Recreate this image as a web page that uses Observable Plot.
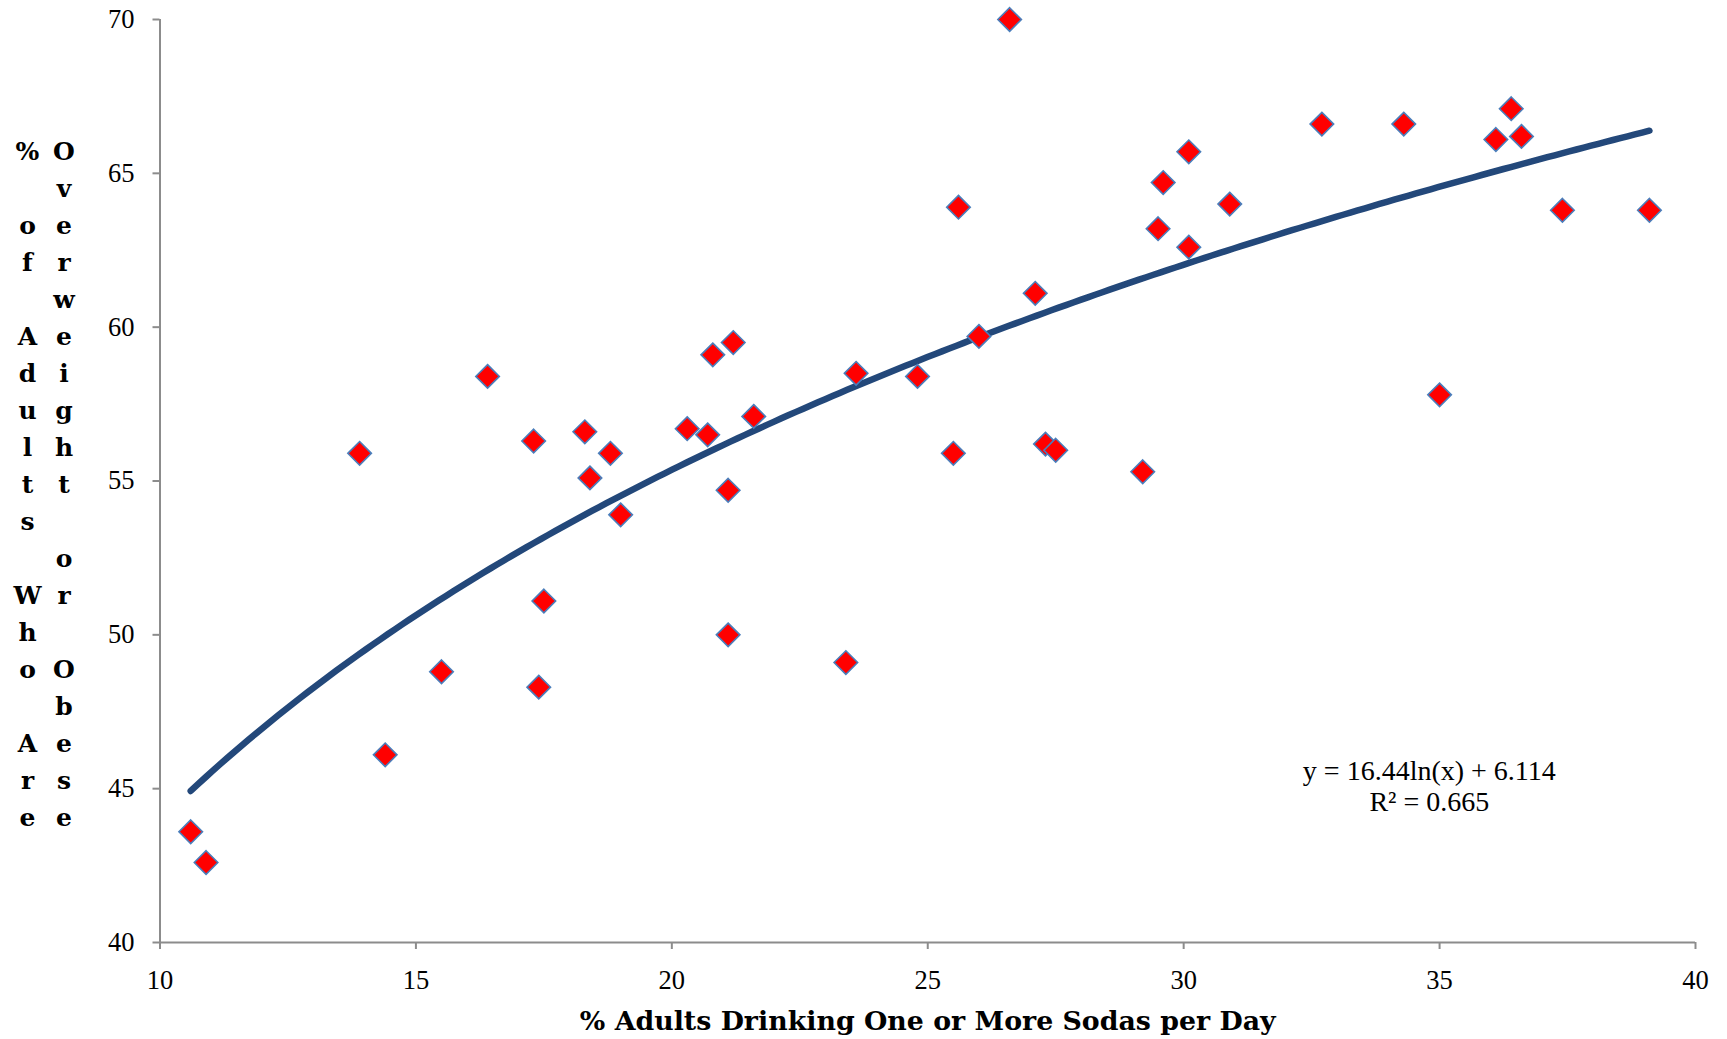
<!DOCTYPE html>
<html><head><meta charset="utf-8">
<script src="https://cdn.jsdelivr.net/npm/d3@7"></script>
<script src="https://cdn.jsdelivr.net/npm/@observablehq/plot@0.6"></script>
<style>
html,body{margin:0;padding:0;background:#fff;}
#wrap{position:relative;width:1727px;height:1039px;overflow:hidden;}
#wrap svg{position:absolute;left:0;top:0;}
.ycol{position:absolute;top:133px;width:40px;font-family:"DejaVu Serif";font-weight:bold;font-size:25px;line-height:37px;text-align:center;color:#000;}
.ycol div{height:37px;white-space:pre;}
</style></head><body><div id="wrap"></div>
<script>
// % adults drinking one or more sodas per day
const sodaPct = [10.6,10.9,13.9,14.4,15.5,16.4,17.3,17.4,17.5,18.3,18.4,18.8,19.0,20.3,20.7,20.8,21.1,21.1,21.2,21.6,23.4,23.6,24.8,25.5,25.6,26.0,26.6,27.1,27.3,27.5,29.2,29.5,29.6,30.1,30.1,30.9,32.7,34.3,35.0,36.1,36.4,36.6,37.4,39.1];
// % adults who are overweight or obese
const overweightPct = [43.6,42.6,55.9,46.1,48.8,58.4,56.3,48.3,51.1,56.6,55.1,55.9,53.9,56.7,56.5,59.1,54.7,50.0,59.5,57.1,49.1,58.5,58.4,55.9,63.9,59.7,70.0,61.1,56.2,56.0,55.3,63.2,64.7,65.7,62.6,64.0,66.6,66.6,57.8,66.1,67.1,66.2,63.8,63.8];
const xTicks = [10,15,20,25,30,35,40];
const yTicks = [40,45,50,55,60,65,70];
// logarithmic trendline shown on the chart: y = a ln(x) + b
const trendCoefs = [16.44, 6.114];
const equationLines = ["y = 16.44ln(x) + 6.114", "R² = 0.665"];
const equationPos = [34.8, 45.1];
const xLabel = "% Adults Drinking One or More Sodas per Day";
const yLabelColumns = ["% of Adults Who Are", "Overweight or Obese"];

const points = sodaPct.map((x, i) => ({x, y: overweightPct[i]}));
const [xmin, xmax] = d3.extent(sodaPct);
const trend = d3.range(0, 201).map(i => {
  const x = xmin + (xmax - xmin) * i / 200;
  return {x, y: trendCoefs[0] * Math.log(x) + trendCoefs[1]};
});

const chart = Plot.plot({
  width: 1727, height: 1039,
  marginLeft: 159.5, marginRight: 32, marginTop: 19, marginBottom: 97,
  x: {domain: [10, 40]},
  y: {domain: [40, 70]},
  style: {fontFamily: "Liberation Serif", fontSize: "26px", color: "#000", background: "#fff", overflow: "visible"},
  marks: [
    Plot.axisX({ticks: xTicks, tickSize: 7, tickPadding: 21, stroke: "#8c8c8c", strokeWidth: 2, fill: "#000", fontSize: 26.5, label: null}),
    Plot.axisY({ticks: yTicks, tickSize: 7, tickPadding: 18.5, stroke: "#8c8c8c", strokeWidth: 2, fill: "#000", fontSize: 26.5, label: null}),
    Plot.ruleY([40], {stroke: "#8c8c8c", strokeWidth: 2}),
    Plot.ruleX([10], {stroke: "#8c8c8c", strokeWidth: 2}),
    Plot.line(trend, {x: "x", y: "y", stroke: "#23487A", strokeWidth: 6.5, strokeLinecap: "round"}),
    Plot.dot(points, {x: "x", y: "y", symbol: "diamond2", r: 10.6, fill: "#FF0000", stroke: "#4A7EBB", strokeWidth: 1.6}),
    Plot.text([equationLines.join("\n")], {x: equationPos[0], y: equationPos[1], lineAnchor: "middle", lineHeight: 1.11, fontSize: 28, fill: "#000"}),
    Plot.text([xLabel], {frameAnchor: "bottom", dy: 79, lineAnchor: "middle", fontFamily: "DejaVu Serif", fontWeight: "bold", fontSize: 26.8, fill: "#000"})
  ]
});
const wrap = document.getElementById("wrap");
wrap.appendChild(chart);
const colCenters = [27.5, 64];
yLabelColumns.forEach((s, ci) => {
  const col = document.createElement("div");
  col.className = "ycol";
  col.style.left = (colCenters[ci] - 20) + "px";
  for (const ch of s) {
    const d = document.createElement("div");
    d.textContent = ch;
    col.appendChild(d);
  }
  wrap.appendChild(col);
});
</script></body></html>
